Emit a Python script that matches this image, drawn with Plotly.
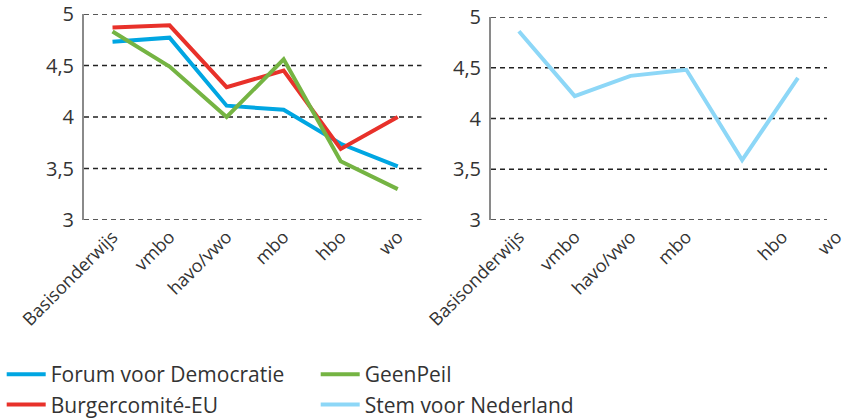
import plotly.graph_objects as go

categories = ["Basisonderwijs", "vmbo", "havo/vwo", "mbo", "hbo", "wo"]
fvd = [4.73, 4.77, 4.11, 4.07, 3.74, 3.52]
burger = [4.87, 4.89, 4.29, 4.45, 3.69, 4.00]
geenpeil = [4.83, 4.49, 4.00, 4.56, 3.57, 3.30]
stem = [4.86, 4.22, 4.42, 4.48, 3.59, 4.40]

y_ticks = [3, 3.5, 4, 4.5, 5]
y_ticktext = ["3", "3,5", "4", "4,5", "5"]
# tick label positions on the right panel (as they appear in the original)
right_label_pos = [0, 1, 2, 3, 4.72, 5.69]

FONT = "Open Sans"
TXT = "#333333"
x_idx = list(range(len(categories)))

fig = go.Figure()
fig.add_trace(go.Scatter(x=x_idx, y=fvd, mode="lines", name="Forum voor Democratie",
                         line=dict(color="#00A6E2", width=4), legendrank=1, xaxis="x", yaxis="y"))
fig.add_trace(go.Scatter(x=x_idx, y=burger, mode="lines", name="Burgercomité-EU",
                         line=dict(color="#E8312A", width=4), legendrank=3, xaxis="x", yaxis="y"))
fig.add_trace(go.Scatter(x=x_idx, y=geenpeil, mode="lines", name="GeenPeil",
                         line=dict(color="#75B443", width=4), legendrank=2, xaxis="x", yaxis="y"))
fig.add_trace(go.Scatter(x=x_idx, y=stem, mode="lines", name="Stem voor Nederland",
                         line=dict(color="#8DD7F7", width=4), legendrank=4, xaxis="x2", yaxis="y2"))

W, H = 848, 419
left_x0, left_x1 = 84 / W, 421.7 / W
right_x0, right_x1 = 491 / W, 846.5 / W
left_y = [1 - 220 / H, 1 - 14 / H]
right_y = [1 - 220 / H, 1 - 17 / H]

grid = dict(color="#222222", width=1.3, dash="5px,4px")
shapes = []
for yv in y_ticks:
    shapes.append(dict(type="line", xref="x", yref="y", x0=-0.5, x1=5.42, y0=yv, y1=yv,
                       line=grid, layer="below"))
    shapes.append(dict(type="line", xref="x2", yref="y2", x0=-0.5, x1=5.52, y0=yv, y1=yv,
                       line=grid, layer="below"))

xcommon = dict(showgrid=False, zeroline=False, showline=False, ticks="", tickangle=-45,
               tickfont=dict(family=FONT, size=18, color=TXT), ticklabelstandoff=2,
               automargin=False, ticklabeloverflow="allow")
ycommon = dict(range=[3, 5], tickvals=y_ticks, ticktext=y_ticktext, showgrid=False,
               zeroline=False, showline=True, linecolor="#8a8a8a", linewidth=2, ticks="",
               tickfont=dict(family=FONT, size=20, color=TXT), ticklabelstandoff=4,
               automargin=False, ticklabeloverflow="allow")

fig.update_layout(
    width=W, height=H,
    margin=dict(l=0, r=0, t=0, b=0, autoexpand=False),
    paper_bgcolor="white", plot_bgcolor="white",
    xaxis=dict(domain=[left_x0, left_x1], range=[-0.5, 5.42], anchor="y",
               tickvals=x_idx, ticktext=categories, **xcommon),
    yaxis=dict(domain=left_y, anchor="x", **ycommon),
    xaxis2=dict(domain=[right_x0, right_x1], range=[-0.5, 5.87], anchor="y2",
                tickvals=right_label_pos, ticktext=categories, **xcommon),
    yaxis2=dict(domain=right_y, anchor="x2", **ycommon),
    shapes=shapes,
    showlegend=True,
    legend=dict(orientation="h", x=0.002, xanchor="left", y=-0.0145, yanchor="bottom",
                entrywidth=260, entrywidthmode="pixels",
                font=dict(family=FONT, size=21, color=TXT), itemwidth=39,
                bgcolor="rgba(0,0,0,0)"),
    font=dict(family=FONT, color=TXT),
)

fig.write_html("out.html", config={"displayModeBar": False},
               post_script="document.body.style.margin='0';")
